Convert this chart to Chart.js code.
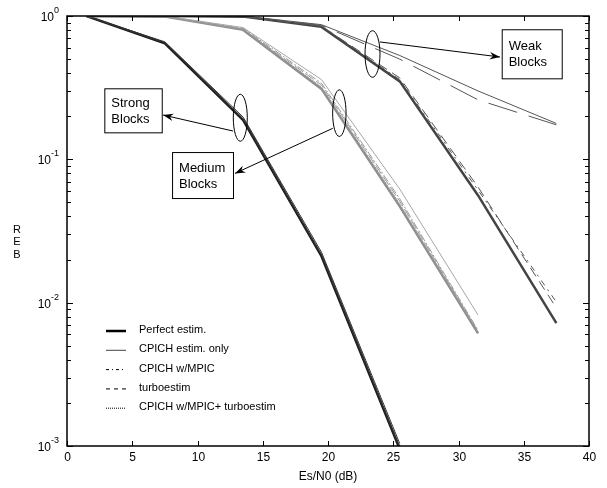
<!DOCTYPE html>
<html>
<head>
<meta charset="utf-8">
<script src="https://cdn.jsdelivr.net/npm/chart.js@4"></script>
<style>
  html, body { margin: 0; padding: 0; background: #fff; }
  #wrap { width: 607px; height: 488px; }
</style>
</head>
<body>
<div id="wrap"><canvas id="michart"></canvas></div>
<script>
// Es/N0 points (dB)
const snr = [1.5, 7.5, 13.5, 19.5, 25.5, 31.5, 37.5]

// strong blocks
const strongPerfect = [1, 0.645, 0.188, 0.0211, 0.00095]
const strongCpich = [1, 0.66, 0.197, 0.0225, 0.00104]
const strongMpic = [1, 0.652, 0.192, 0.0217, 0.00099]
const strongTurbo = [1, 0.65, 0.19, 0.0215, 0.00098]
const strongBoth = [1, 0.648, 0.189, 0.0213, 0.00096]

// medium blocks
const mediumPerfect = [1, 0.99, 0.80, 0.31, 0.047, 0.0061]
const mediumCpich = [1, 1, 0.83, 0.36, 0.062, 0.0082]
const mediumMpic = [1, 0.99, 0.82, 0.34, 0.053, 0.0064]
const mediumTurbo = [1, 0.99, 0.81, 0.33, 0.051, 0.0063]
const mediumBoth = [1, 0.99, 0.80, 0.32, 0.049, 0.0062]

// weak blocks
const weakPerfect = [1, 1, 0.99, 0.84, 0.35, 0.056, 0.0072]
const weakCpich = [1, 1, 1, 0.87, 0.53, 0.30, 0.178]
const weakMpic = [1, 1, 1, 0.86, 0.50, 0.26, 0.174]
const weakTurbo = [1, 1, 0.99, 0.85, 0.37, 0.064, 0.0092]
const weakBoth = [1, 1, 0.99, 0.85, 0.36, 0.061, 0.0101]

const xTicks = [0, 5, 10, 15, 20, 25, 30, 35, 40]
const yDecades = [0, -1, -2, -3]
const legendLabels = ['Perfect estim.', 'CPICH estim. only', 'CPICH w/MPIC', 'turboestim', 'CPICH w/MPIC+ turboestim']
const legendDash = [[], [], [3, 3, 1, 3], [4, 4], [1, 1]]
const legendWidth = [2.5, 1, 1, 1, 1]

const FONT = '"Liberation Sans", Arial, sans-serif'

const serie = (vals, color, width, dash) => ({
  data: vals.map((v, i) => ({ x: snr[i], y: v })),
  borderColor: color,
  borderWidth: width,
  borderDash: dash,
  pointRadius: 0,
  fill: false,
  tension: 0
})

const datasets = [
  serie(weakCpich, '#555', 1, []),
  serie(weakMpic, '#555', 1, [30, 12]),
  serie(weakTurbo, '#555', 1, [10, 6]),
  serie(weakBoth, '#555', 1, [6, 5, 2, 5]),
  serie(weakPerfect, '#444', 2.5, []),
  serie(mediumCpich, '#a6a6a6', 1, []),
  serie(mediumMpic, '#999', 1, [8, 2, 2, 2]),
  serie(mediumTurbo, '#999', 1, [10, 3]),
  serie(mediumBoth, '#999', 1, [2, 1]),
  serie(mediumPerfect, '#8f8f8f', 2.5, []),
  serie(strongCpich, '#333', 1, []),
  serie(strongMpic, '#333', 1, [6, 2]),
  serie(strongTurbo, '#333', 1, [6, 3]),
  serie(strongBoth, '#333', 1, [1, 1]),
  serie(strongPerfect, '#1c1c1c', 2.5, [])
]

// annotations, in data units
const ellipses = [
  { x: 13.28, y: 0.195, rx: 7, ry: 23.5 },
  { x: 20.87, y: 0.21, rx: 6.7, ry: 23.3 },
  { x: 23.41, y: 0.543, rx: 7.5, ry: 23.3 }
]
const boxes = [
  { x0: 2.86, x1: 7.26, y0: 0.313, y1: 0.1543, lines: ['Strong', 'Blocks'] },
  { x0: 8.05, x1: 12.72, y0: 0.1124, y1: 0.0537, lines: ['Medium', 'Blocks'] },
  { x0: 33.31, x1: 37.91, y0: 0.808, y1: 0.3675, lines: ['Weak', 'Blocks'] }
]
const arrows = [
  { from: [12.72, 0.1576], to: [7.36, 0.2038] },
  { from: [20.36, 0.1645], to: [12.87, 0.0798] },
  { from: [23.98, 0.659], to: [33.18, 0.5175] }
]

const extras = {
  id: 'extras',
  afterDatasetsDraw(chart) {
    const ctx = chart.ctx
    const a = chart.chartArea
    const xs = chart.scales.x
    const ys = chart.scales.y
    ctx.save()

    // frame
    ctx.strokeStyle = '#000'
    ctx.lineWidth = 1.5
    ctx.strokeRect(a.left, a.top, a.right - a.left, a.bottom - a.top)

    // x ticks inside, top and bottom
    ctx.lineWidth = 1
    ctx.fillStyle = '#000'
    ctx.font = '12px ' + FONT
    ctx.textAlign = 'center'
    ctx.textBaseline = 'middle'
    xTicks.forEach(t => {
      const px = Math.round(xs.getPixelForValue(t)) + 0.5
      ctx.beginPath()
      ctx.moveTo(px, a.bottom); ctx.lineTo(px, a.bottom - 5)
      ctx.moveTo(px, a.top); ctx.lineTo(px, a.top + 5)
      ctx.stroke()
      ctx.fillText(String(t), px, a.bottom + 12)
    })

    // y ticks, major and minor, left and right
    yDecades.forEach(d => {
      const py = Math.round(ys.getPixelForValue(Math.pow(10, d))) + 0.5
      ctx.beginPath()
      ctx.moveTo(a.left, py); ctx.lineTo(a.left + 6, py)
      ctx.moveTo(a.right, py); ctx.lineTo(a.right - 6, py)
      ctx.stroke()
      if (d < 0) {
        for (let k = 2; k <= 9; k++) {
          const my = Math.round(ys.getPixelForValue(k * Math.pow(10, d))) + 0.5
          ctx.beginPath()
          ctx.moveTo(a.left, my); ctx.lineTo(a.left + 4, my)
          ctx.moveTo(a.right, my); ctx.lineTo(a.right - 4, my)
          ctx.stroke()
        }
      }
      // label 10^d
      const exp = String(d).replace('-', '-')
      ctx.font = '9px ' + FONT
      const ew = ctx.measureText(exp).width
      ctx.textAlign = 'left'
      ctx.fillText(exp, a.left - 8 - ew + 0, py - 6)
      ctx.font = '12px ' + FONT
      ctx.textAlign = 'right'
      ctx.fillText('10', a.left - 8 - ew, py + 1)
    })

    // axis titles
    ctx.textAlign = 'center'
    ctx.font = '12px ' + FONT
    ctx.fillText('Es/N0 (dB)', (a.left + a.right) / 2, a.bottom + 31)
    ctx.font = '11px ' + FONT
    ctx.fillText('R', 17, 230)
    ctx.fillText('E', 17, 242)
    ctx.fillText('B', 17, 255)

    // ellipses
    ctx.lineWidth = 1
    ellipses.forEach(e => {
      ctx.beginPath()
      ctx.ellipse(xs.getPixelForValue(e.x), ys.getPixelForValue(e.y), e.rx, e.ry, 0, 0, Math.PI * 2)
      ctx.stroke()
    })

    // arrows
    arrows.forEach(ar => {
      const x0 = xs.getPixelForValue(ar.from[0]), y0 = ys.getPixelForValue(ar.from[1])
      const x1 = xs.getPixelForValue(ar.to[0]), y1 = ys.getPixelForValue(ar.to[1])
      ctx.beginPath()
      ctx.moveTo(x0, y0); ctx.lineTo(x1, y1)
      ctx.stroke()
      const ang = Math.atan2(y1 - y0, x1 - x0)
      ctx.beginPath()
      ctx.moveTo(x1, y1)
      ctx.lineTo(x1 - 11 * Math.cos(ang - 0.35), y1 - 11 * Math.sin(ang - 0.35))
      ctx.lineTo(x1 - 7 * Math.cos(ang), y1 - 7 * Math.sin(ang))
      ctx.lineTo(x1 - 11 * Math.cos(ang + 0.35), y1 - 11 * Math.sin(ang + 0.35))
      ctx.closePath()
      ctx.fill()
    })

    // text boxes
    ctx.font = '13px ' + FONT
    boxes.forEach(b => {
      const l = xs.getPixelForValue(b.x0), r = xs.getPixelForValue(b.x1)
      const t = ys.getPixelForValue(b.y0), bt = ys.getPixelForValue(b.y1)
      ctx.fillStyle = '#fff'
      ctx.fillRect(l, t, r - l, bt - t)
      ctx.strokeStyle = '#000'
      ctx.strokeRect(l + 0.5, t + 0.5, r - l, bt - t)
      ctx.fillStyle = '#000'
      ctx.textAlign = 'left'
      const cy = (t + bt) / 2
      ctx.fillText(b.lines[0], l + 7, cy - 7)
      ctx.fillText(b.lines[1], l + 7, cy + 9)
    })

    // legend
    ctx.font = '11px ' + FONT
    ctx.textAlign = 'left'
    legendLabels.forEach((lab, i) => {
      const ly = 331 + i * 19.3
      ctx.beginPath()
      ctx.lineWidth = legendWidth[i]
      ctx.strokeStyle = i === 1 ? '#444' : '#000'
      ctx.setLineDash(legendDash[i])
      ctx.moveTo(106, ly); ctx.lineTo(126, ly)
      ctx.stroke()
      ctx.setLineDash([])
      ctx.fillText(lab, 139, ly - 1)
    })

    ctx.restore()
  }
}

const config = {
  type: 'line',
  data: { datasets },
  options: {
    responsive: false,
    animation: false,
    layout: { padding: { left: 0, right: 18, top: 16, bottom: 0 } },
    plugins: { legend: { display: false }, tooltip: { enabled: false } },
    scales: {
      x: {
        type: 'linear', min: 0, max: 40,
        grid: { display: false }, border: { display: false },
        ticks: { display: false },
        afterFit: s => { s.height = 42 }
      },
      y: {
        type: 'logarithmic', min: 0.001, max: 1,
        grid: { display: false }, border: { display: false },
        ticks: { display: false },
        afterFit: s => { s.width = 67 }
      }
    }
  },
  plugins: [extras]
}

const canvas = document.getElementById('michart')
canvas.width = 607
canvas.height = 488
const chart1 = new Chart(canvas, config)
</script>
</body>
</html>
